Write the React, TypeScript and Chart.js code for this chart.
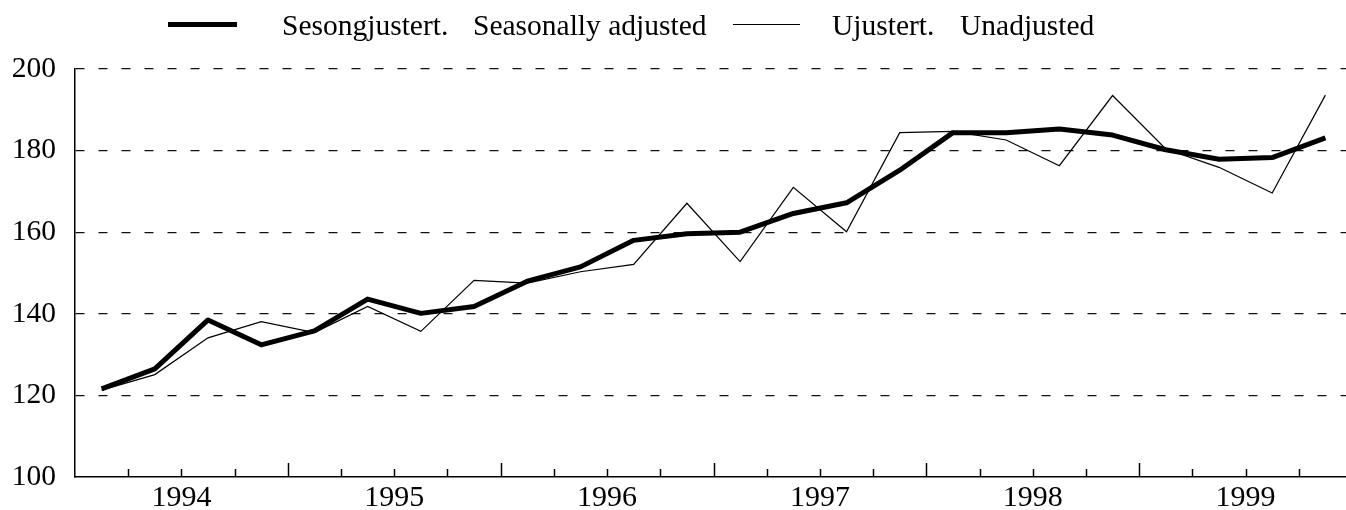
import React, { useEffect, useRef } from 'react';
import { Chart, registerables } from 'chart.js';

Chart.register(...registerables);

// Quarters 1994 Q1 – 1999 Q4
const quarters = [
  '1994K1', '1994K2', '1994K3', '1994K4',
  '1995K1', '1995K2', '1995K3', '1995K4',
  '1996K1', '1996K2', '1996K3', '1996K4',
  '1997K1', '1997K2', '1997K3', '1997K4',
  '1998K1', '1998K2', '1998K3', '1998K4',
  '1999K1', '1999K2', '1999K3', '1999K4',
];

const seasonallyAdjusted = [
  121.6, 126.5, 138.5, 132.4,
  135.8, 143.6, 140.1, 141.8,
  148.0, 151.5, 158.0, 159.6,
  160.0, 164.6, 167.2, 175.2,
  184.4, 184.4, 185.3, 183.8,
  180.2, 177.9, 178.3, 183.1,
];

const unadjusted = [
  121.3, 125.1, 134.1, 138.1,
  135.4, 141.8, 135.7, 148.2,
  147.5, 150.3, 152.1, 167.1,
  152.8, 171.0, 160.1, 184.4,
  184.7, 182.6, 176.3, 193.5,
  180.4, 175.9, 169.6, 193.6,
];

const yearLabels = ['1994', '1995', '1996', '1997', '1998', '1999'];
const yTickValues = [100, 120, 140, 160, 180, 200];

const legendSeasonal = 'Sesongjustert.';
const legendSeasonalEn = 'Seasonally adjusted';
const legendUnadj = 'Ujustert.';
const legendUnadjEn = 'Unadjusted';

const FONT = '"Liberation Serif", "Times New Roman", serif';

const toPoints = (vals: number[]) => vals.map((v, i) => ({ x: i + 0.5, y: v }));

const innerTicksPlugin = {
  id: 'innerTicks',
  afterDraw(chart: any) {
    const { ctx, chartArea, scales } = chart;
    const xs = scales.x;
    ctx.save();
    ctx.strokeStyle = '#000';
    ctx.lineWidth = 1.5;
    for (let v = 1; v < quarters.length; v++) {
      const px = Math.round(xs.getPixelForValue(v)) + 0.5;
      const len = v % 4 === 0 ? 14 : 8;
      ctx.beginPath();
      ctx.moveTo(px, chartArea.bottom);
      ctx.lineTo(px, chartArea.bottom - len);
      ctx.stroke();
    }
    ctx.restore();
  },
};

export default function App() {
  const canvasRef = useRef<HTMLCanvasElement | null>(null);

  useEffect(() => {
    if (!canvasRef.current) return;
    const chart = new Chart(canvasRef.current, {
      type: 'line',
      data: {
        labels: quarters,
        datasets: [
          {
            label: `${legendSeasonal} ${legendSeasonalEn}`,
            data: toPoints(seasonallyAdjusted),
            borderColor: '#000',
            borderWidth: 5,
            pointRadius: 0,
            tension: 0,
            fill: false,
            borderJoinStyle: 'round',
          },
          {
            label: `${legendUnadj} ${legendUnadjEn}`,
            data: toPoints(unadjusted),
            borderColor: '#000',
            borderWidth: 1.2,
            pointRadius: 0,
            tension: 0,
            fill: false,
          },
        ],
      },
      options: {
        responsive: false,
        animation: false,
        layout: { padding: { top: 69, left: 0, right: 8, bottom: 0 } },
        plugins: {
          legend: { display: false },
          tooltip: { enabled: false },
          title: { display: false },
        },
        scales: {
          x: {
            type: 'linear',
            min: 0,
            max: quarters.length,
            afterFit: (s: any) => { s.height = 33; },
            afterBuildTicks: (s: any) => {
              s.ticks = Array.from({ length: quarters.length + 1 }, (_, i) => ({ value: i }));
            },
            ticks: {
              autoSkip: false,
              maxRotation: 0,
              minRotation: 0,
              padding: 3,
              color: '#000',
              font: { family: FONT, size: 30 },
              callback: (v: any) => {
                const n = Number(v);
                return n % 4 === 2 ? yearLabels[(n - 2) / 4] : '';
              },
            },
            grid: { color: 'rgba(0,0,0,0)', drawTicks: false, drawOnChartArea: false },
            border: { display: true, color: '#000', width: 1.5 },
          },
          y: {
            type: 'linear',
            min: 100,
            max: 200,
            afterFit: (s: any) => {
              s.width = 75;
              s.paddingTop = 0;
              s.paddingBottom = 0;
            },
            afterBuildTicks: (s: any) => {
              s.ticks = yTickValues.map((v) => ({ value: v }));
            },
            ticks: {
              padding: 19,
              color: '#000',
              font: { family: FONT, size: 29.5 },
            },
            grid: {
              drawTicks: false,
              lineWidth: 1.3,
              color: (c: any) => (c.tick && c.tick.value === 100 ? 'rgba(0,0,0,0)' : '#111'),
            },
            border: { display: true, color: '#000', width: 1.5, dash: [9, 14] },
          },
        },
      },
      plugins: [innerTicksPlugin],
    } as any);
    return () => chart.destroy();
  }, []);

  const textStyle: React.CSSProperties = {
    position: 'absolute',
    fontFamily: FONT,
    fontSize: 29.5,
    lineHeight: '28px',
    color: '#000',
    whiteSpace: 'nowrap',
    top: 11,
  };

  return (
    <div style={{ position: 'absolute', left: 0, top: 0, width: 1346, height: 510, background: '#fff', overflow: 'hidden' }}>
      <canvas ref={canvasRef} width={1360} height={510} style={{ position: 'absolute', left: 0, top: 0 }} />
      <div style={{ position: 'absolute', left: 168, top: 22, width: 69, height: 5, background: '#000' }} />
      <span style={{ ...textStyle, left: 282 }}>{legendSeasonal}</span>
      <span style={{ ...textStyle, left: 473 }}>{legendSeasonalEn}</span>
      <div style={{ position: 'absolute', left: 733, top: 24, width: 67, height: 1.2, background: '#000' }} />
      <span style={{ ...textStyle, left: 832 }}>{legendUnadj}</span>
      <span style={{ ...textStyle, left: 960 }}>{legendUnadjEn}</span>
    </div>
  );
}
